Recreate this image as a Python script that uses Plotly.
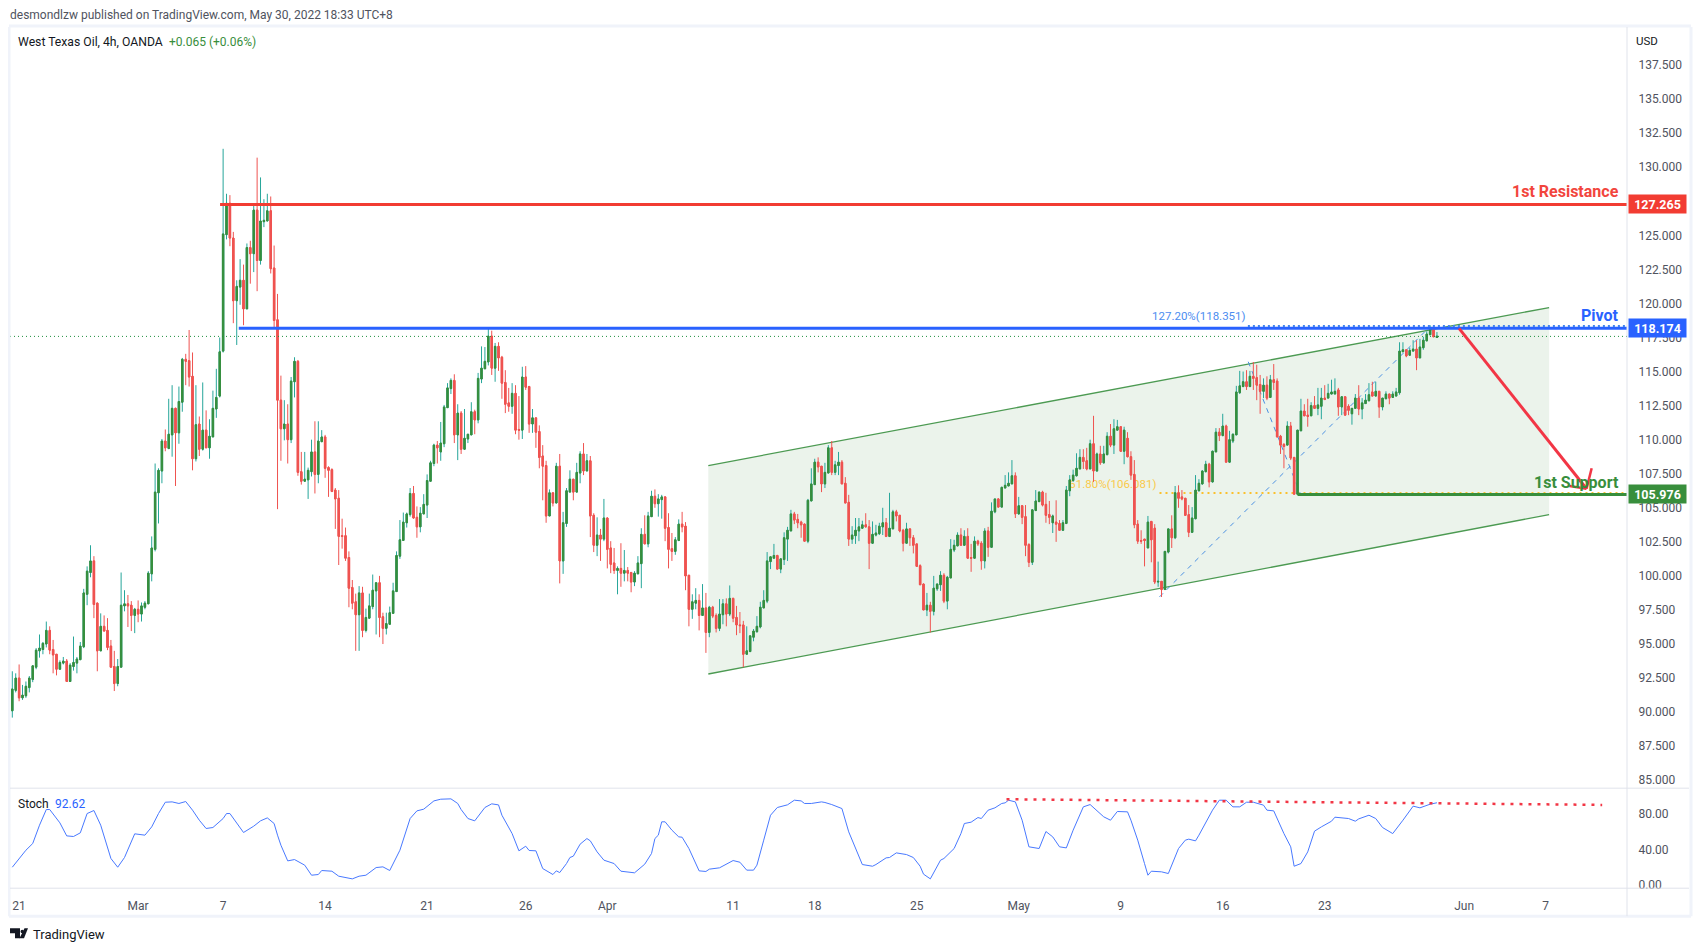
import plotly.graph_objects as go

# chart values (4h bars, index 0 is the first bar on the left)
opens = [
    90.1,91.6,92.5,91.05,91.2,91.8,92.4,93.3,94.5,94.6,
    95.0,96.0,94.6,94.25,93.15,93.6,93.75,92.25,93.35,93.6,
    93.85,94.8,98.65,100.25,101.1,98.0,94.5,96.3,96.0,94.85,
    93.35,92.1,93.3,97.8,97.95,97.85,97.1,97.55,97.2,97.7,
    97.95,100.15,101.95,106.1,107.7,109.9,109.35,110.35,112.3,110.5,
    112.75,115.9,115.8,114.65,108.6,111.15,109.3,110.7,109.4,110.2,
    112.25,113.2,116.5,125.05,127.35,124.8,120.2,121.2,121.7,119.6,
    124.1,123.65,126.85,123.15,126.0,126.05,126.8,122.6,118.8,112.9,
    110.8,111.15,110.0,114.25,115.75,107.65,106.95,107.05,107.65,109.1,
    107.45,109.85,110.2,107.95,107.8,106.3,105.7,102.95,102.95,101.35,
    99.15,98.1,97.15,98.75,96.0,96.9,97.75,98.9,99.5,97.0,
    96.15,96.45,97.25,98.85,101.45,102.6,103.9,104.5,106.05,104.3,
    103.6,104.55,105.2,106.95,108.25,109.6,109.1,109.7,112.35,113.75,
    114.35,110.35,111.95,109.3,110.05,110.35,112.05,111.45,114.45,115.2,
    115.7,117.6,115.25,116.85,116.05,114.2,112.7,112.45,113.4,110.75,
    110.7,114.6,113.9,111.15,111.6,110.6,108.8,108.1,104.4,106.1,
    105.35,108.05,101.1,103.85,106.15,107.1,106.15,107.55,108.95,107.7,
    108.45,104.45,102.25,103.0,102.7,104.25,102.05,100.95,100.4,100.55,
    100.2,100.4,100.25,99.55,100.15,100.9,103.05,102.35,104.35,105.85,
    105.3,105.6,105.8,103.55,102.0,101.8,102.6,103.8,103.65,100.05,
    97.55,98.0,98.2,97.1,97.65,95.85,97.7,97.1,96.15,97.15,
    97.95,97.2,98.35,96.95,96.4,96.4,94.25,94.45,95.5,95.9,
    96.25,97.65,98.15,101.05,101.3,101.5,100.5,101.2,102.7,103.3,
    104.55,104.15,103.95,103.8,102.55,105.5,106.7,108.35,108.05,106.75,
    107.55,109.4,107.6,108.1,108.35,106.8,105.4,102.7,102.95,103.3,
    103.5,103.75,103.6,102.4,103.0,103.1,103.6,103.9,102.9,103.45,
    104.7,104.45,103.35,102.4,103.45,102.8,102.35,100.75,99.4,97.5,
    97.85,97.4,99.05,99.35,100.05,98.15,99.85,101.9,102.2,103.0,
    102.25,102.9,101.35,101.3,102.55,102.4,101.1,103.3,102.1,104.7,
    105.65,105.05,106.45,106.6,106.75,107.35,104.55,105.15,104.35,102.3,
    101.0,104.8,105.45,106.15,105.25,104.5,103.9,103.95,103.85,103.35,
    103.85,106.25,107.0,107.35,107.85,108.7,108.45,107.85,109.7,107.7,
    108.95,108.3,108.9,110.25,109.6,110.7,110.95,109.15,110.1,108.75,
    107.45,103.8,102.6,102.7,102.05,104.0,103.5,99.55,99.6,99.0,
    101.75,103.45,102.8,106.1,105.8,105.7,104.5,103.2,104.2,106.25,
    106.75,107.65,108.2,106.9,109.1,110.55,110.3,111.0,108.35,109.9,
    110.35,113.45,113.9,114.25,113.9,114.65,114.55,114.05,113.55,114.0,
    113.1,114.4,114.3,110.25,109.65,109.6,111.0,108.7,106.0,110.65,
    112.1,111.8,111.75,112.5,112.3,112.45,113.05,113.05,113.35,113.35,
    113.65,112.4,113.15,112.45,111.9,112.3,113.05,112.25,112.65,112.85,
    113.5,113.2,113.55,112.4,113.0,113.35,113.1,113.2,113.45,116.45,
    116.6,116.2,116.5,116.65,116.0,116.75,117.25,117.7,118.1,117.5,
]
highs = [
    93.0,92.85,93.5,92.0,92.25,92.65,93.4,94.7,95.7,95.15,
    96.65,96.3,95.3,94.25,93.8,94.05,93.9,93.6,95.55,94.05,
    95.15,99.05,100.7,102.25,101.45,98.05,97.25,97.1,96.9,95.3,
    94.5,93.9,100.25,98.95,98.6,98.15,97.65,98.2,98.05,98.15,
    100.35,102.9,108.25,107.9,110.05,110.75,113.0,114.0,112.35,113.9,
    116.0,116.3,118.05,116.4,114.0,111.7,114.2,112.15,111.5,113.6,
    115.2,117.5,131.35,128.05,127.95,125.25,121.7,123.25,122.85,124.4,
    124.6,127.3,130.7,129.25,127.65,128.05,127.85,124.25,120.7,114.7,
    112.9,112.6,114.6,116.05,115.85,109.1,109.1,107.95,110.0,111.35,
    111.35,110.7,110.35,108.05,107.9,106.45,106.3,104.2,103.55,101.8,
    99.7,98.7,99.25,99.2,97.6,98.7,100.1,99.5,100.0,97.3,
    97.3,97.75,99.5,101.8,104.1,104.65,104.65,106.45,106.6,105.1,
    105.05,106.0,107.45,108.45,109.7,109.9,111.3,112.55,114.15,114.5,
    114.8,112.6,112.1,112.25,110.4,112.75,112.2,114.9,116.85,116.8,
    118.15,118.0,117.1,117.15,116.15,115.1,113.8,114.15,114.0,113.2,
    115.35,115.4,113.95,112.25,111.6,111.05,109.6,108.45,106.35,106.1,
    108.3,108.95,104.7,106.45,107.75,107.1,108.3,109.15,109.75,108.95,
    108.8,104.6,104.3,103.45,105.65,104.3,102.55,102.05,100.7,102.4,
    101.9,100.65,100.3,100.35,101.45,103.5,104.45,104.7,106.25,106.35,
    106.0,105.95,105.85,104.6,103.15,102.85,104.15,104.7,103.95,100.05,
    98.65,99.1,98.65,99.4,98.75,97.8,97.8,97.25,98.3,98.3,
    98.35,99.3,98.4,97.8,97.35,96.7,96.3,95.6,96.1,97.05,
    98.1,98.95,101.75,101.4,102.35,101.55,101.25,103.2,103.6,104.85,
    104.7,104.55,104.05,103.85,105.65,107.9,108.6,108.7,108.05,108.3,
    109.6,109.9,108.45,109.1,108.5,107.25,105.95,103.65,104.25,104.25,
    104.05,104.6,104.1,104.0,103.75,103.9,105.0,104.25,106.1,104.85,
    104.85,104.45,103.45,103.9,103.5,103.0,102.35,100.85,99.45,98.75,
    98.1,100.0,99.45,100.35,100.2,100.0,102.7,102.65,103.2,103.5,
    103.35,103.5,102.35,102.9,102.65,102.55,103.5,103.6,105.4,105.65,
    105.7,106.55,107.4,107.6,108.5,107.6,105.8,105.2,105.2,102.4,
    104.85,106.3,106.2,106.25,106.1,105.5,104.5,105.55,104.1,104.1,
    106.6,107.4,107.8,109.0,109.3,109.3,109.4,110.0,111.75,109.05,
    109.55,109.55,110.55,111.15,111.5,111.45,110.95,110.95,110.55,109.15,
    108.5,104.1,103.35,102.7,104.4,104.0,103.8,101.05,99.6,101.8,
    103.45,104.45,106.6,106.65,106.3,105.7,105.2,105.05,107.4,107.1,
    107.75,108.45,108.3,109.2,110.85,110.85,111.9,111.1,110.65,110.45,
    113.95,115.05,115.0,115.1,115.05,115.7,115.5,114.75,114.5,114.65,
    114.75,115.55,114.5,110.35,109.75,111.35,111.3,108.7,110.7,113.0,
    112.6,113.0,112.75,113.2,113.8,113.8,114.0,114.1,114.4,114.5,
    113.8,113.15,113.15,112.6,112.3,113.35,114.0,113.05,113.35,114.15,
    114.25,114.25,113.55,113.05,113.55,113.35,113.55,113.8,117.15,117.15,
    116.6,116.75,117.3,117.3,117.4,117.55,117.95,118.4,118.4,117.9,
]
lows = [
    89.6,91.45,90.8,90.9,91.05,91.45,92.2,93.15,94.0,94.25,
    94.75,94.25,92.85,92.7,93.15,93.5,92.25,92.25,93.05,92.85,
    93.85,94.7,97.85,99.9,96.9,93.0,94.5,95.95,94.55,93.3,
    91.55,91.9,93.3,97.4,96.25,95.95,95.8,96.6,96.65,97.55,
    97.95,99.6,101.8,103.85,106.8,109.15,109.3,108.75,106.6,109.7,
    112.05,114.0,113.9,107.75,108.4,108.8,109.2,109.4,108.6,110.2,
    111.6,113.1,116.4,124.7,124.2,118.55,116.95,119.9,118.4,119.6,
    121.45,122.3,120.9,122.85,125.6,126.05,122.2,118.25,104.9,108.45,
    109.95,108.25,109.75,113.1,107.35,106.7,106.95,105.65,107.3,106.05,
    106.8,109.85,107.2,105.8,106.15,103.45,100.8,102.0,101.1,97.7,
    97.55,94.5,94.5,95.5,95.85,96.85,97.55,95.7,95.5,95.0,
    95.7,96.45,97.25,98.85,101.25,102.6,103.55,104.35,104.2,102.8,
    103.2,104.55,104.25,106.95,108.05,108.25,108.45,109.45,112.35,113.35,
    109.75,108.5,108.95,109.25,109.75,110.35,110.4,111.2,114.15,115.2,
    115.45,114.75,114.25,115.05,113.0,111.95,112.05,111.9,110.4,110.0,
    110.05,113.65,110.5,110.5,109.4,107.9,105.55,103.9,104.4,105.1,
    105.35,99.45,100.15,103.6,106.15,105.55,106.15,106.8,107.4,107.7,
    102.85,101.75,101.45,101.1,102.55,100.55,100.2,100.15,98.65,99.2,
    99.6,99.6,98.8,99.25,100.15,99.1,102.35,102.1,104.35,105.0,
    104.35,104.2,102.55,100.55,101.1,101.55,102.55,103.2,98.95,96.3,
    96.85,97.55,96.0,97.1,94.35,95.5,96.9,95.85,95.95,96.45,
    96.3,97.05,96.6,95.65,95.8,93.3,94.25,94.4,95.2,95.85,
    96.15,97.65,98.0,100.5,101.3,100.5,100.2,100.8,101.1,103.3,
    103.8,103.5,102.8,102.55,102.4,105.5,106.7,107.6,106.15,106.45,
    107.55,107.4,107.4,107.4,106.75,105.35,102.2,102.35,102.35,102.55,
    103.5,103.55,100.5,102.35,102.9,103.0,103.0,102.85,102.85,103.45,
    104.0,103.2,101.8,102.4,102.2,101.65,100.7,99.35,97.5,97.05,
    95.85,97.1,98.9,98.9,98.0,97.55,99.85,101.75,102.2,102.25,
    102.2,101.3,100.3,101.3,102.2,100.45,100.55,101.4,102.1,104.6,
    105.05,105.05,106.45,106.6,106.75,104.25,104.5,103.8,101.45,100.65,
    100.8,104.75,105.45,105.1,103.9,103.8,103.15,102.5,103.35,103.3,
    103.8,105.85,106.9,107.3,107.85,107.85,107.75,107.85,106.9,107.65,
    108.15,108.25,108.85,109.45,108.95,110.7,109.1,108.2,108.7,107.05,
    103.5,102.35,102.35,100.7,102.05,101.0,99.4,99.2,98.45,99.0,
    101.65,102.05,102.7,105.0,105.55,104.4,102.85,103.15,104.15,106.2,
    106.7,107.6,106.5,106.85,109.1,109.9,110.25,108.35,108.3,109.75,
    110.35,113.35,113.85,113.65,113.85,113.65,112.9,111.9,113.05,112.9,
    113.1,113.65,110.2,108.95,107.9,109.6,108.5,106.0,106.0,110.65,
    111.75,110.95,111.75,112.3,111.8,111.5,112.9,113.05,113.35,113.35,
    111.75,111.8,111.8,111.8,111.1,112.3,111.8,111.5,112.65,112.85,
    113.2,113.2,111.6,112.15,113.0,112.6,113.1,113.2,113.3,116.45,
    116.05,116.2,116.5,115.1,116.0,116.6,117.25,117.7,117.55,117.5,
]
closes = [
    91.7,92.5,91.05,91.25,91.9,92.5,93.4,94.55,94.7,95.05,
    96.0,94.55,94.2,93.15,93.65,93.75,92.25,93.45,93.65,93.9,
    94.85,98.75,100.35,101.1,97.9,94.5,96.3,95.95,94.75,93.3,
    92.1,93.35,97.85,97.95,97.8,97.1,97.55,97.2,97.8,98.0,
    100.2,102.05,106.15,107.75,109.9,109.4,110.4,112.3,110.5,112.8,
    115.9,115.75,114.6,108.6,111.1,109.3,110.7,109.4,110.25,112.3,
    113.1,116.45,125.1,127.35,124.8,120.2,121.25,121.7,119.6,124.1,
    123.65,126.85,123.15,126.05,126.1,126.8,122.55,118.75,112.9,110.8,
    111.15,110.0,114.3,115.75,107.6,106.95,107.1,107.75,109.1,107.45,
    109.9,110.2,107.9,107.75,106.2,105.65,102.9,102.9,101.3,99.1,
    98.0,97.15,98.75,96.0,96.95,97.8,98.95,99.5,96.95,96.15,
    96.5,97.3,98.9,101.5,102.65,103.95,104.55,106.05,104.25,103.6,
    104.6,105.25,107.0,108.3,109.6,109.4,109.75,112.4,113.8,114.35,
    110.35,111.95,109.3,110.1,110.4,112.05,111.45,114.5,115.25,115.75,
    117.6,115.25,116.85,116.0,114.15,112.6,112.45,113.4,110.7,110.7,
    114.6,113.85,111.15,111.6,110.55,108.7,108.05,104.4,106.1,105.35,
    108.05,101.1,103.9,106.25,107.1,106.15,107.6,108.95,107.7,108.45,
    104.4,102.25,103.0,102.7,104.25,101.95,100.85,100.4,100.55,100.2,
    100.4,100.2,99.55,100.2,100.95,103.05,102.35,104.4,105.85,105.3,
    105.65,105.8,103.5,101.95,101.8,102.65,103.8,103.6,100.0,97.55,
    98.1,98.2,97.1,97.65,95.85,97.7,97.05,96.15,97.2,97.95,
    97.2,98.35,96.9,96.4,96.35,94.25,94.5,95.6,95.95,96.3,
    97.7,98.2,101.1,101.4,101.5,100.5,101.25,102.8,103.35,104.55,
    104.1,103.9,103.75,102.55,105.55,106.75,108.35,108.0,106.75,107.6,
    109.4,107.6,108.15,108.35,106.75,105.35,102.7,103.0,103.35,103.6,
    103.75,103.6,102.4,103.05,103.15,103.65,103.9,102.9,103.5,104.7,
    104.4,103.3,102.4,103.45,102.8,102.25,100.7,99.35,97.5,97.85,
    97.4,99.1,99.4,100.05,98.15,99.9,101.95,102.25,103.0,102.25,
    102.9,101.3,101.3,102.55,102.35,101.1,103.3,102.1,104.75,105.65,
    105.05,106.5,106.65,106.8,107.35,104.55,105.15,104.3,102.25,101.0,
    104.85,105.5,106.15,105.2,104.45,104.3,104.4,103.8,103.35,103.9,
    106.3,107.05,107.4,107.9,108.7,108.4,107.85,109.7,107.7,108.95,
    108.3,108.95,110.25,109.6,110.8,110.95,109.15,110.7,108.75,107.4,
    103.75,102.55,102.55,102.6,103.95,102.65,99.55,99.6,99.0,101.8,
    103.45,102.8,106.1,105.7,105.65,104.45,103.2,104.25,106.3,106.8,
    107.7,108.2,106.9,109.15,110.55,110.3,111.0,108.35,110.0,110.4,
    113.5,113.95,114.25,113.9,114.65,114.5,114.0,113.55,114.0,113.05,
    114.4,114.2,110.2,109.6,109.5,111.0,108.65,106.0,110.7,112.1,
    111.75,111.7,112.5,112.3,112.55,113.05,112.95,113.4,113.5,113.55,
    112.4,113.15,111.8,112.15,112.3,113.05,112.25,112.7,112.9,113.3,
    113.2,113.55,112.4,113.05,113.35,113.05,113.35,113.5,116.5,116.6,
    116.15,116.55,116.65,116.0,116.8,117.3,117.75,118.1,117.55,117.6,
]

stoch_bar = [
    0,2,4,6,8,10,11,14,16,18,20,22,24,26,29,31,33,36,39,41,43,45,47,49,51,53,55,57,59,62,
    63,64,66,68,71,73,75,77,78,79,81,83,86,88,90,91,94,96,100,102,104,107,109,111,114,117,119,121,124,126,
    129,131,132,134,136,139,141,143,144,147,149,151,152,154,156,159,160,161,163,164,165,167,169,170,172,174,177,179,183,186,
    188,189,190,191,192,194,196,197,199,202,204,205,208,210,212,214,216,218,219,221,223,225,228,230,232,233,235,238,239,241,
    244,246,248,250,253,254,257,258,260,263,265,267,268,270,273,274,277,279,280,282,284,285,287,289,291,292,293,295,297,299,
    302,304,306,308,310,312,315,317,321,323,325,328,329,331,333,334,335,338,340,341,343,345,346,348,349,353,355,357,359,361,
    363,365,368,369,371,374,376,377,379,381,383,385,388,389,393,395,396,399,401,403,405,406,409,412,414,417,419,
]
stoch_val = [
    20.2,29.6,39.3,46.8,67.4,85.0,85.0,70.0,55.4,54.7,58.8,80.5,83.9,67.4,30.0,20.2,31.1,57.7,56.2,65.5,80.5,93.2,93.6,91.8,94.0,84.3,73.0,63.7,64.8,74.9,
    80.5,80.5,69.3,59.2,66.3,72.3,75.6,69.3,56.2,44.9,27.3,28.8,22.5,11.2,12.0,16.5,15.7,10.1,7.1,10.1,11.2,19.8,20.6,16.5,39.3,74.9,83.5,85.4,94.7,96.6,
    97.0,91.8,85.0,74.9,72.3,87.3,91.4,90.2,78.6,58.0,38.6,43.8,39.0,38.6,18.7,12.0,16.1,14.2,24.3,31.1,32.6,46.1,52.4,49.8,37.4,28.1,24.3,15.7,13.9,23.6,
    35.6,52.4,56.2,71.2,71.2,61.8,54.3,53.9,41.2,16.1,15.4,18.0,19.5,24.0,27.7,25.8,16.9,16.9,22.5,50.6,78.6,87.3,90.3,95.5,94.7,91.8,91.8,93.6,92.9,90.6,
    86.1,59.9,41.2,23.2,21.3,23.2,30.7,31.1,36.3,34.4,31.1,21.3,12.4,7.1,28.1,30.0,41.2,58.0,69.3,70.8,76.0,74.9,84.3,86.9,91.8,92.5,95.5,93.6,73.0,43.1,
    41.2,60.3,54.3,43.1,41.9,61.8,88.0,90.6,76.8,73.0,82.8,82.4,73.0,50.6,24.3,11.2,15.7,15.0,13.1,22.5,41.2,50.6,51.7,49.8,56.2,84.3,95.5,95.5,88.0,88.0,
    93.2,93.2,89.9,84.3,83.5,58.0,43.1,21.3,24.3,37.4,60.7,65.5,71.9,76.4,74.9,71.9,74.5,78.6,74.9,64.8,60.7,58.0,73.0,88.8,86.9,91.0,92.6,
]

date_ticks = [2, 37, 62, 92, 122, 151, 175, 212, 236, 266, 296, 326, 356, 386, 427, 451]
date_labels = ["21", "Mar", "7", "14", "21", "26", "Apr", "11", "18", "25", "May", "9", "16", "23", "Jun", "7"]
# 127.500 is hidden behind the resistance tag in the original
price_ticks = [85, 87.5, 90, 92.5, 95, 97.5, 100, 102.5, 105, 107.5, 110, 112.5, 115, 117.5, 120, 122.5, 125, 130, 132.5, 135, 137.5]
stoch_ticks = [0, 40, 80]

resistance = 127.265
pivot = 118.174
support = 105.976
last_price = 117.58
fib_upper = 118.351
fib_lower = 106.081

# channel and drawings, bar index / price
channel_x = [204.7, 452]
channel_top = [108.1, 119.7]
channel_bottom = [92.8, 104.5]
arrow_x = [425.5, 463]
arrow_y = [118.17, 106.4]
head_x = [464.5, 463, 458]
head_y = [107.9, 106.4, 106.6]
fib_a_x = [337.4, 416.9]
fib_a_y = [98.46, 118.29]
fib_b_x = [363.5, 378.8]
fib_b_y = [115.72, 106.05]
stoch_trend_x = [292.4, 467.6]
stoch_trend_y = [96.6, 90.2]

# the page keeps the browser's 8px body margin, so the figure is smaller and shifted by that
MARGIN = 8
W, H = 1701 - 2 * MARGIN, 951 - 2 * MARGIN
# the full figure comes out a few px short at the bottom, H_DRAWN makes up for it
H_DRAWN = H - 4.2
FONT = "Roboto"
RED = "#f23c32"
BLUE = "#2962ff"
GREEN = "#388e3c"
TEXT = "#50535e"
FRAME = "#e0e3eb"
OUTER = "#f0f3fa"

PANE_L, PANE_R = 10, 1627
PRICE_T, PRICE_B = 27, 788
STOCH_B = 888
X_RANGE = [-0.68, 474.9]
Y_RANGE = [84.42, 140.29]


def px(x):
    return (x - MARGIN) / W


def py(y):
    return 1 - (y - MARGIN) / H_DRAWN


bars = list(range(len(closes)))
body_high = [max(o, c) for o, c in zip(opens, closes)]
body_low = [min(o, c) for o, c in zip(opens, closes)]

fig = go.Figure()

# base layer, sits under the candles
fig.add_trace(go.Scatter(
    x=channel_x + channel_x[::-1], y=channel_top + channel_bottom[::-1],
    mode="lines", fill="toself", fillcolor="rgba(56,142,60,0.10)", line=dict(width=0),
    xaxis="x", yaxis="y", hoverinfo="skip", showlegend=False))
for ys in (channel_top, channel_bottom):
    fig.add_trace(go.Scatter(x=channel_x, y=ys, mode="lines", line=dict(color="#4c9a52", width=1.3),
                             xaxis="x", yaxis="y", hoverinfo="skip", showlegend=False))
fig.add_trace(go.Scatter(x=fib_a_x, y=fib_a_y, mode="lines", line=dict(color="#4a90e2", width=1, dash="5px,5px"),
                         xaxis="x", yaxis="y", hoverinfo="skip", showlegend=False))
fig.add_trace(go.Scatter(x=fib_b_x, y=fib_b_y, mode="lines", line=dict(color="#4a90e2", width=1, dash="5px,5px"),
                         xaxis="x", yaxis="y", hoverinfo="skip", showlegend=False))
fig.add_trace(go.Scatter(x=[337.4, X_RANGE[1]], y=[fib_lower, fib_lower], mode="lines",
                         line=dict(color="#fbc02d", width=2, dash="2px,4px"),
                         xaxis="x", yaxis="y", hoverinfo="skip", showlegend=False))
fig.add_trace(go.Scatter(x=[336.5], y=[fib_lower + 0.55], mode="text", text=["61.80%(106.081)"],
                         textposition="middle left", textfont=dict(family=FONT, size=11.5, color="#fac94a"),
                         xaxis="x", yaxis="y", hoverinfo="skip", showlegend=False))

# candles: the first trace gives the teal wicks, the second paints the bodies over it
fig.add_trace(go.Candlestick(
    x=bars, open=opens, high=highs, low=lows, close=closes, xaxis="x", yaxis="y3",
    increasing=dict(line=dict(color="#26a69a", width=1), fillcolor="#26a69a"),
    decreasing=dict(line=dict(color="#ef5350", width=1), fillcolor="#ef5350"),
    whiskerwidth=0, hoverinfo="skip", showlegend=False))
fig.add_trace(go.Candlestick(
    x=bars, open=opens, high=body_high, low=body_low, close=closes, xaxis="x", yaxis="y3",
    increasing=dict(line=dict(color=GREEN, width=1), fillcolor=GREEN),
    decreasing=dict(line=dict(color="#ef5350", width=1), fillcolor="#ef5350"),
    whiskerwidth=0, hoverinfo="skip", showlegend=False))

# stoch pane
fig.add_trace(go.Scatter(x=stoch_bar, y=stoch_val, mode="lines", line=dict(color="#2962ff", width=1),
                         xaxis="x2", yaxis="y2", hoverinfo="skip", showlegend=False, opacity=0.85))
fig.add_trace(go.Scatter(x=stoch_trend_x, y=stoch_trend_y, mode="lines",
                         line=dict(color="#f23645", width=2.5, dash="3px,6px"),
                         xaxis="x2", yaxis="y2", hoverinfo="skip", showlegend=False))

# level lines on top of the candles
levels = [
    (61.1, resistance, RED, 3, "solid"),
    (66.6, pivot, BLUE, 3, "solid"),
    (378, support, GREEN, 3, "solid"),
    (X_RANGE[0], last_price, "#1e8e3e", 1, "1px,3px"),
    (363.4, fib_upper, "#3f83f0", 2, "2px,3px"),
]
for x0, level, color, width, dash in levels:
    fig.add_shape(type="line", xref="x", yref="y", x0=x0, x1=X_RANGE[1], y0=level, y1=level,
                  line=dict(color=color, width=width, dash=dash))
fig.add_shape(type="line", xref="x", yref="y", x0=arrow_x[0], x1=arrow_x[1], y0=arrow_y[0], y1=arrow_y[1],
              line=dict(color="#f23645", width=3))
for i in (0, 2):
    j = 1
    fig.add_shape(type="line", xref="x", yref="y", x0=head_x[i], x1=head_x[j], y0=head_y[i], y1=head_y[j],
                  line=dict(color="#f23645", width=2.5))

# frame of the picture
frame_lines = [
    (PANE_L - 1, PRICE_T - 1, 1691, PRICE_T - 1, OUTER, 3),
    (PANE_L - 1, PRICE_T, PANE_L - 1, 916, OUTER, 3),
    (1691, PRICE_T, 1691, 916, OUTER, 3),
    (PANE_L - 1, 916, 1691, 916, OUTER, 3),
    (PANE_L, PRICE_B, 1689, PRICE_B, FRAME, 1),
    (PANE_L, STOCH_B, 1689, STOCH_B, FRAME, 1),
    (PANE_R, PRICE_T, PANE_R, 916, FRAME, 1),
]
for x0, y0, x1, y1, color, width in frame_lines:
    fig.add_shape(type="line", xref="paper", yref="paper", x0=px(x0), y0=py(y0), x1=px(x1), y1=py(y1),
                  line=dict(color=color, width=width))

# TradingView logo
logo_paths = [
    [(10, 928), (20, 928), (20, 938), (15, 938), (15, 933), (10, 933)],
    [(24.5, 928), (28, 928), (24, 938), (19.5, 938)],
]
for pts in logo_paths:
    d = "M " + " L ".join(f"{px(a):.5f},{py(b):.5f}" for a, b in pts) + " Z"
    fig.add_shape(type="path", xref="paper", yref="paper", path=d, fillcolor="#131722", line=dict(width=0))
fig.add_shape(type="circle", xref="paper", yref="paper", x0=px(20.5), x1=px(24), y0=py(933), y1=py(929.5),
              fillcolor="#131722", line=dict(width=0))


def label(x, y, text, color=TEXT, size=12, anchor="left"):
    fig.add_annotation(xref="paper", yref="paper", x=px(x), y=py(y), text=text, showarrow=False,
                       xanchor=anchor, yanchor="middle", font=dict(family=FONT, size=size, color=color))


label(8, 15, "desmondlzw published on TradingView.com, May 30, 2022 18:33 UTC+8", size=12)
label(16, 42, "West Texas Oil, 4h, OANDA", size=12.2, color="#131722")
label(167, 42, "+0.065 (+0.06%)", size=12, color=GREEN)
label(16, 803.5, "Stoch", size=12, color="#131722")
label(53, 803.5, "92.62", size=12, color=BLUE)
label(1634, 40.5, "USD", size=11.5, color="#131722")
label(31, 934, "TradingView", size=13, color="#131722")

for text, color, y_px in [
    ("<b>1st Resistance</b>", "#f2453d", 191),
    ("<b>Pivot</b>", BLUE, 315),
    ("<b>1st Support</b>", GREEN, 482),
]:
    label(1621, y_px, text, color=color, size=16, anchor="right")

fig.add_annotation(xref="x", yref="y", x=363.3, y=fib_upper + 0.05, text="127.20%(118.351)", showarrow=False,
                   xanchor="right", yanchor="bottom", font=dict(family=FONT, size=11.5, color="#4c8df0"))

for level, color in [(resistance, "#f23c32"), (pivot, BLUE), (support, GREEN)]:
    fig.add_annotation(xref="paper", yref="y", x=px(1628), y=level, text=f"<b>{level:.3f}</b>", showarrow=False,
                       xanchor="left", yanchor="middle", width=55, height=16, align="center",
                       bgcolor=color, font=dict(family=FONT, size=12.5, color="white"))

tick_font = dict(family=FONT, size=12, color=TEXT)
fig.update_layout(
    width=W, height=H, margin=dict(l=0, r=0, t=0, b=0),
    paper_bgcolor="white", plot_bgcolor="white", boxgap=0.4, boxmode="overlay", showlegend=False,
    xaxis=dict(domain=[px(PANE_L), px(PANE_R)], range=X_RANGE, anchor="y", showticklabels=False, ticks="",
               showgrid=False, zeroline=False, rangeslider=dict(visible=False)),
    xaxis2=dict(domain=[px(PANE_L), px(PANE_R)], range=X_RANGE, anchor="y2", matches="x",
                tickmode="array", tickvals=date_ticks, ticktext=date_labels, ticks="outside", ticklen=6,
                tickcolor="rgba(0,0,0,0)", tickfont=tick_font, showgrid=False, zeroline=False,
                rangeslider=dict(visible=False)),
    yaxis=dict(domain=[py(PRICE_B), py(PRICE_T)], range=Y_RANGE, side="right", anchor="x",
               tickmode="array", tickvals=price_ticks, ticktext=[f"{t:.3f}" for t in price_ticks],
               tickfont=tick_font, ticks="outside", ticklen=8, tickcolor="rgba(0,0,0,0)",
               showgrid=False, zeroline=False),
    yaxis3=dict(range=Y_RANGE, overlaying="y", side="right", anchor="x", visible=False),
    yaxis2=dict(domain=[py(STOCH_B), py(PRICE_B)], range=[-3.37, 109], side="right", anchor="x2",
                tickmode="array", tickvals=stoch_ticks, ticktext=[f"{t:.2f}" for t in stoch_ticks],
                tickfont=tick_font, ticks="outside", ticklen=8, tickcolor="rgba(0,0,0,0)",
                showgrid=False, zeroline=False),
)

fig.write_html("out.html")
